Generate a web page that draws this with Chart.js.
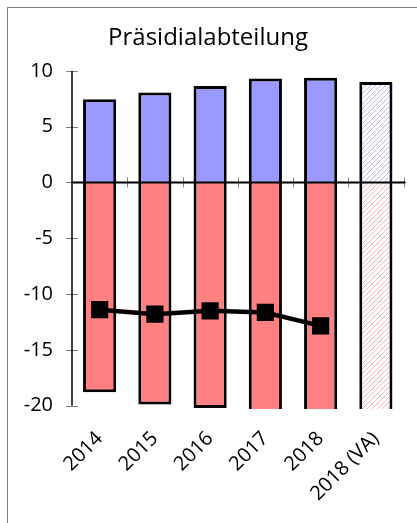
<!DOCTYPE html>
<html lang="de">
<head>
    <meta charset="UTF-8">
    <title>Präsidialabteilung</title>
    <script src="https://cdn.jsdelivr.net/npm/chart.js"></script>
    <style>
        body { margin: 0; background: #fff; overflow: hidden; }
        /* frame: only left and top edge are inside the window */
        #frame {
            position: absolute; left: 7px; top: 7px;
            width: 430px; height: 540px;
            border-left: 1px solid #808080;
            border-top: 1px solid #808080;
        }
        #chartBox { position: absolute; left: 8px; top: 8px; width: 409px; height: 515px; }
    </style>
</head>
<body>
    <div id="frame"></div>
    <div id="chartBox">
        <canvas id="deptChart" width="409" height="515"></canvas>
    </div>

    <script>
        // data
        const years = ['2014', '2015', '2016', '2017', '2018', '2018 (VA)'];
        const positiveValues = [7.45, 8.05, 8.63, 9.3, 9.37, 9.0];
        const negativeValues = [-18.8, -19.9, -20.2, -21, -21, -21];
        const lineValues = [-11.4, -11.8, -11.5, -11.65, -12.85, null];
        const yTicks = [-20, -15, -10, -5, 0, 5, 10];

        const blue = '#9999ff';
        const red = '#ff8080';

        // diagonal hatch for the forecast column
        function hatch(color) {
            const c = document.createElement('canvas');
            c.width = 5; c.height = 5;
            const g = c.getContext('2d');
            g.fillStyle = '#fff';
            g.fillRect(0, 0, 5, 5);
            g.strokeStyle = color;
            g.lineWidth = 1;
            g.beginPath();
            g.moveTo(-1, 6); g.lineTo(6, -1);
            g.moveTo(-1, 1); g.lineTo(1, -1);
            g.moveTo(4, 6); g.lineTo(6, 4);
            g.stroke();
            return g.createPattern(c, 'repeat');
        }
        const blueHatch = hatch('#b8b8ff');
        const redHatch = hatch('#ffb0b0');

        const fillsFor = (solid, hatched) => years.map((y, i) => i === years.length - 1 ? hatched : solid);

        // zero line with crossing ticks, y axis line with crossing ticks
        const axisPlugin = {
            id: 'axisLines',
            afterDatasetsDraw(chart) {
                const ctx = chart.ctx;
                const x = chart.scales.x, y = chart.scales.y;
                const y0 = y.getPixelForValue(0);
                const ax = x.left;
                const half = (x.right - x.left) / years.length / 2;
                ctx.save();
                ctx.strokeStyle = '#808080';
                ctx.lineWidth = 1;
                years.forEach((lab, i) => {
                    const px = Math.round(x.getPixelForValue(i) + half) + 0.5;
                    ctx.beginPath();
                    ctx.moveTo(px, y0 - 5);
                    ctx.lineTo(px, y0 + 5);
                    ctx.stroke();
                });
                yTicks.forEach(v => {
                    const py = Math.round(y.getPixelForValue(v)) + 0.5;
                    ctx.beginPath();
                    ctx.moveTo(ax - 6, py);
                    ctx.lineTo(ax + 6, py);
                    ctx.stroke();
                });
                ctx.strokeStyle = '#000';
                ctx.lineWidth = 1.5;
                ctx.beginPath();
                ctx.moveTo(ax, y.getPixelForValue(yTicks[yTicks.length - 1]));
                ctx.lineTo(ax, y.getPixelForValue(yTicks[0]));
                ctx.stroke();
                ctx.lineWidth = 2;
                ctx.beginPath();
                ctx.moveTo(ax, y0);
                ctx.lineTo(x.right + 2, y0);
                ctx.stroke();
                ctx.restore();
            }
        };

        const ctx = document.getElementById('deptChart').getContext('2d');
        const deptChart = new Chart(ctx, {
            data: {
                labels: years,
                datasets: [
                    {
                        type: 'line',
                        data: lineValues,
                        borderColor: '#000',
                        borderWidth: 4.5,
                        pointStyle: 'rect',
                        pointRadius: 9,
                        pointBackgroundColor: '#000',
                        pointBorderColor: '#000',
                        tension: 0,
                        order: 0
                    },
                    {
                        type: 'bar',
                        data: positiveValues,
                        backgroundColor: fillsFor(blue, blueHatch),
                        borderColor: '#000',
                        borderWidth: 3,
                        borderSkipped: 'start',
                        order: 1
                    },
                    {
                        type: 'bar',
                        data: negativeValues,
                        backgroundColor: fillsFor(red, redHatch),
                        borderColor: '#000',
                        borderWidth: 3,
                        borderSkipped: 'start',
                        order: 1
                    }
                ]
            },
            options: {
                responsive: false,
                animation: false,
                datasets: { bar: { barPercentage: 0.6, categoryPercentage: 1 } },
                layout: { padding: { left: 0, right: 9, top: 0, bottom: 0 } },
                plugins: {
                    legend: { display: false },
                    tooltip: { enabled: false },
                    title: {
                        display: true,
                        text: 'Präsidialabteilung',
                        color: '#000',
                        font: { family: 'Open Sans', size: 24, weight: 'normal' },
                        padding: { top: 16, bottom: 18 }
                    }
                },
                scales: {
                    x: {
                        stacked: true,
                        grid: { display: false },
                        border: { display: false },
                        afterFit: s => { s.height = 114; },
                        ticks: {
                            color: '#000',
                            font: { family: 'Open Sans', size: 20 },
                            minRotation: 45,
                            maxRotation: 45,
                            padding: 10
                        }
                    },
                    y: {
                        min: -20.3,
                        max: 10,
                        afterFit: s => { s.width = 64; },
                        afterBuildTicks: s => { s.ticks = yTicks.map(v => ({ value: v })); },
                        border: { display: false },
                        grid: { drawOnChartArea: false, drawTicks: false },
                        ticks: {
                            color: '#000',
                            font: { family: 'Open Sans', size: 20 },
                            padding: 19
                        }
                    }
                }
            },
            plugins: [axisPlugin]
        });
    </script>
</body>
</html>
